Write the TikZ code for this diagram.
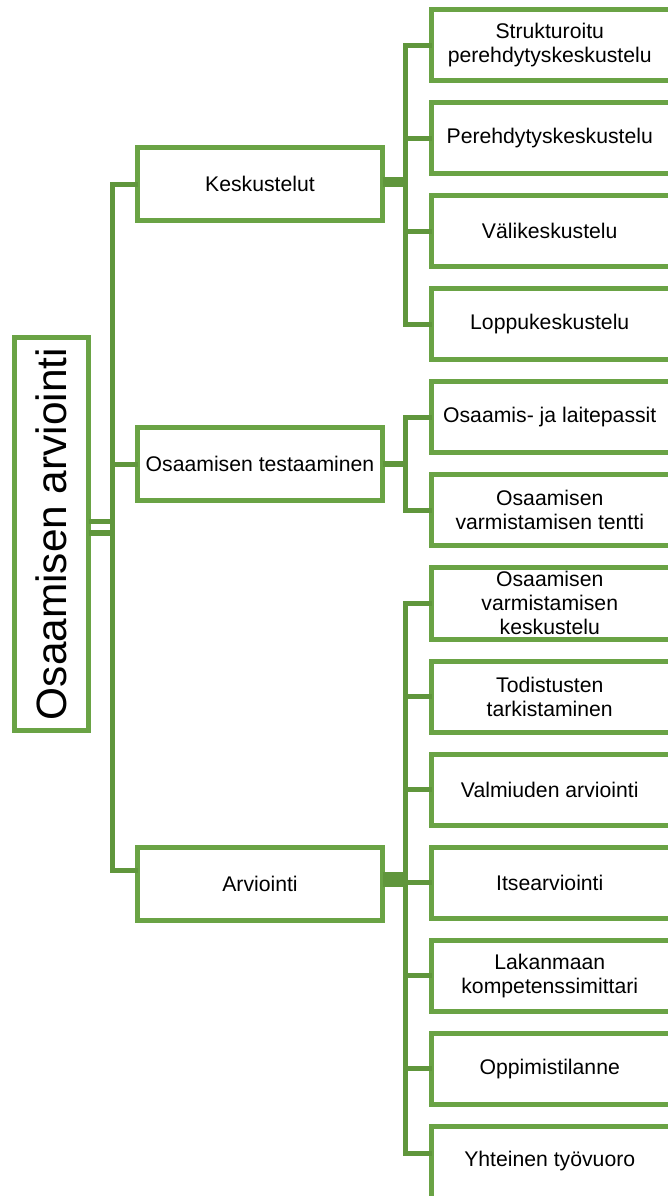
\documentclass[tikz,border=0pt]{standalone}
\usepackage{fontspec}
\setmainfont{Liberation Sans}
\usepackage{graphicx}
\usetikzlibrary{positioning}
\definecolor{boxgreen}{RGB}{106,163,69}
\definecolor{linegreen}{RGB}{96,150,60}
\tikzset{
  treebox/.style={
    draw=boxgreen,
    line width=2.5pt,
    fill=white,
    align=center,
    inner sep=2pt,
    outer sep=0pt,
    font=\fontsize{10.6}{12}\selectfont
  },
  topbox/.style={treebox, minimum width=37pt, minimum height=196.5pt},
  groupbox/.style={treebox, minimum width=122.5pt, minimum height=36.5pt},
  leafbox/.style={treebox, draw=none, minimum width=118.25pt, minimum height=35.5pt},
  leafline/.style={draw=boxgreen, line width=2.5pt},
  conn/.style={draw=linegreen, line width=2.5pt},
  stub/.style={conn, line width=5pt}
}

\begin{document}
\begin{tikzpicture}[x=0.5pt, y=-0.5pt]
\useasboundingbox (0,0) rectangle (668,1196);

% root and groups
\node[topbox] (main) at (51.5,534) {\rotatebox{90}{\fontsize{21.2}{25}\selectfont Osaamisen arviointi}};
\node[groupbox] (kesk) at (260,184) {Keskustelut};
\node[groupbox] (test) at (260,464) {Osaamisen testaaminen};
\node[groupbox] (arvi) at (260,883.5) {Arviointi};

% leaves (cut off by the right and bottom edge)
\node[leafbox] (k1) at (549.75,45) {Strukturoitu\\perehdytyskeskustelu};
\node[leafbox, below=11pt of k1] (k2) {Perehdytyskeskustelu};
\node[leafbox, below=11pt of k2] (k3) {Välikeskustelu};
\node[leafbox, below=11pt of k3] (k4) {Loppukeskustelu};
\node[leafbox, below=11pt of k4] (t1) {Osaamis- ja laitepassit};
\node[leafbox, below=11pt of t1] (t2) {Osaamisen\\varmistamisen tentti};
\node[leafbox, below=11pt of t2] (a1) {Osaamisen\\varmistamisen\\keskustelu};
\node[leafbox, below=11pt of a1] (a2) {Todistusten\\tarkistaminen};
\node[leafbox, below=11pt of a2] (a3) {Valmiuden arviointi};
\node[leafbox, below=11pt of a3] (a4) {Itsearviointi};
\node[leafbox, below=11pt of a4] (a5) {Lakanmaan\\kompetenssimittari};
\node[leafbox, below=11pt of a5] (a6) {Oppimistilanne};
\node[leafbox, below=11pt of a6, minimum height=35.25pt] (a7) {Yhteinen työvuoro};

\foreach \n in {k1,k2,k3,k4,t1,t2,a1,a2,a3,a4,a5,a6}
  \draw[leafline] (\n.north east) -- (\n.north west) -- (\n.south west) -- (\n.south east);
\draw[leafline] (a7.north east) -- (a7.north west) -- (a7.south west);

\coordinate (trunk) at (112.5,464);
\coordinate (leaftrunk) at (405.5,464);
\coordinate (arviin) at ([yshift=6.75pt]arvi.west);
\coordinate (mainup) at ([yshift=6.25pt]main.east);
\coordinate (mainlow) at ([yshift=0.75pt]main.east);
\coordinate (a7in) at ([yshift=4pt]a7.west);

% root to groups
\draw[conn] (mainup) -- (mainup -| trunk);
\draw[conn, line width=3pt] (mainlow) -- (mainlow -| trunk);
\draw[conn] (kesk.west) -- (kesk.west -| trunk) -- (arviin -| trunk) -- (arviin);
\draw[conn] (test.west) -- (test.west -| trunk);

% groups to leaves
\draw[stub] ([yshift=1pt]kesk.east) -- ([yshift=1pt]kesk.east -| leaftrunk);
\draw[conn, line width=3pt] (test.east) -- (test.east -| leaftrunk);
\draw[stub, line width=7.5pt] ([yshift=2pt]arvi.east) -- ([yshift=2pt]arvi.east -| leaftrunk);

\draw[conn] (k1.west) -- (k1.west -| leaftrunk) -- (k4.west -| leaftrunk) -- (k4.west);
\draw[conn] (t1.west) -- (t1.west -| leaftrunk) -- (t2.west -| leaftrunk) -- (t2.west);
\draw[conn] (a1.west) -- (a1.west -| leaftrunk) -- (a7in -| leaftrunk) -- (a7in);
\foreach \n in {k2,k3,a2,a3,a4,a5,a6}
  \draw[conn] (\n.west) -- (\n.west -| leaftrunk);
\end{tikzpicture}
\end{document}
